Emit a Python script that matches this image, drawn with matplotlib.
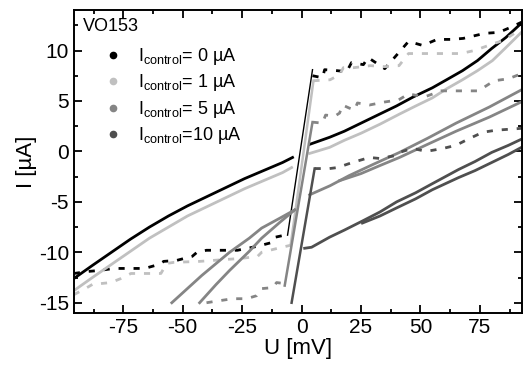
import matplotlib
matplotlib.use("Agg")
import matplotlib.pyplot as plt
from matplotlib.ticker import MultipleLocator

plt.rcParams['font.family'] = ['Liberation Sans', 'DejaVu Sans']
plt.rcParams['mathtext.default'] = 'regular'
plt.rcParams['axes.unicode_minus'] = False

# ---- data: U [mV], I [uA] ----
# I_control = 0 uA (black)
b_low_u = [-95.8, -88, -80, -72, -64, -56, -48, -40, -32, -24, -16, -8, -3.8]
b_low_i = [-12.6, -11.3, -10.0, -8.7, -7.5, -6.4, -5.4, -4.5, -3.6, -2.7, -1.9, -1.1, -0.6]
b_up_u = [3.4, 11.8, 18, 25, 32, 39.9, 47, 55, 61, 67.7, 74, 80, 86, 92.9]
b_up_i = [0.7, 1.4, 2.0, 2.8, 3.6, 4.5, 5.4, 6.3, 7.1, 8.0, 9.0, 10.2, 11.3, 12.8]
b_jump_u = [-5.9, 4.6]
b_jump_i = [-8.3, 8.1]
b_hi_u = [4.6, 8.8, 9.7, 15, 19, 21, 26, 28, 35, 45, 51, 57, 63, 68, 77, 83, 88, 92.5]
b_hi_i = [7.5, 7.3, 8.1, 8.0, 7.9, 8.8, 8.6, 9.3, 8.2, 10.9, 10.5, 11.1, 11.1, 11.2, 11.7, 11.8, 12.3, 12.8]
b_lo_u = [-95.8, -90, -85, -79, -73.5, -66, -60, -58, -52.5, -46, -44, -40, -27, -18.5, -12, -11, -7.1]
b_lo_i = [-12.1, -11.9, -11.8, -11.6, -11.6, -11.6, -11.2, -10.9, -10.8, -10.4, -10.0, -9.8, -9.8, -9.4, -9.0, -8.5, -8.3]

# I_control = 1 uA (light grey)
g1_low_u = [-95.8, -88, -80, -72, -64, -56, -48, -40, -32, -24, -16, -8, -4.2]
g1_low_i = [-13.8, -12.5, -11.2, -9.9, -8.6, -7.5, -6.4, -5.5, -4.6, -3.7, -2.9, -2.1, -1.6]
g1_up_u = [3.4, 11.8, 18, 25, 33, 41.2, 48, 55, 61, 67.7, 74, 80.3, 86, 92.9]
g1_up_i = [-0.2, 0.4, 1.1, 1.8, 2.7, 3.7, 4.5, 5.3, 6.2, 7.1, 8.0, 9.0, 10.3, 11.9]
g1_jump_u = [-4.6, 5.0]
g1_jump_i = [-9.3, 7.0]
g1_hi_u = [5.0, 12, 16, 17.6, 22, 29, 35, 41, 45, 49.6, 56, 62, 67, 72.7, 81, 85, 89.5]
g1_hi_i = [7.0, 7.1, 7.6, 8.3, 8.3, 8.5, 8.4, 8.5, 9.7, 9.7, 9.7, 9.7, 9.7, 10.0, 10.7, 11.0, 11.7]
g1_lo_u = [-95.8, -91, -87.4, -84.5, -80.3, -76, -71.8, -67.6, -59.2, -56.7, -53.8, -42.9, -25.2, -18.5, -16.8, -10, -4.6]
g1_lo_i = [-14.2, -13.6, -13.1, -13.1, -13.0, -12.6, -12.1, -12.1, -12.1, -11.1, -11.0, -10.9, -10.6, -10.4, -10.0, -9.6, -9.3]

# I_control = 5 uA (mid grey)
g5_low_a_u = [-54.6, -42, -30.3, -22, -16.8, -9, -2.9]
g5_low_a_i = [-15.0, -12.3, -10.0, -8.6, -7.6, -6.6, -5.8]
g5_low_b_u = [-42.9, -36, -30.3, -22, -16.8, -9, -2.9]
g5_low_b_i = [-15.0, -13.2, -11.8, -9.9, -8.6, -7.0, -5.8]
g5_jump_u = [-7.1, 4.6]
g5_jump_i = [-13.3, 2.9]
g5_up_a_u = [3.4, 12, 20, 30, 41.2, 53, 65, 79, 93.3]
g5_up_a_i = [-4.3, -3.4, -2.4, -1.3, -0.1, 1.3, 2.8, 4.4, 6.2]
g5_up_b_u = [16, 25, 33, 41.2, 53, 65, 79, 93.3]
g5_up_b_i = [-2.9, -2.2, -1.4, -0.6, 0.7, 2.0, 3.4, 5.0]
g5_hi_u = [4.6, 8.8, 10.1, 14, 16, 17.2, 20, 22.3, 23.5, 28.6, 35, 40.8, 45, 51.7, 58.8, 67.2, 74.4, 81, 87, 92.5]
g5_hi_i = [2.9, 2.8, 3.6, 3.5, 3.8, 4.6, 4.3, 4.1, 4.8, 4.6, 4.9, 5.1, 5.7, 5.4, 6.0, 6.0, 6.0, 7.0, 7.2, 7.7]
g5_lo_u = [-40, -37.4, -29, -23.1, -18.9, -16.8, -12.2, -10.5, -7.1]
g5_lo_i = [-15.0, -14.9, -14.6, -14.6, -14.3, -13.6, -13.5, -13.0, -13.1]

# I_control = 10 uA (dark grey)
g10_jump_u = [-4.2, 5.5]
g10_jump_i = [-15.0, -1.7]
g10_low_u = [1.3, 4.2, 11.8, 18, 25.6, 33, 40, 48, 55, 66, 73, 80, 87, 93.3]
g10_low_i = [-9.6, -9.5, -8.5, -7.8, -6.9, -6.0, -5.0, -4.1, -3.2, -1.8, -1.0, -0.1, 0.6, 1.3]
g10_low2_u = [25.6, 33, 40, 48, 55, 66, 73, 80, 87, 93.3]
g10_low2_i = [-7.1, -6.4, -5.6, -4.7, -3.8, -2.6, -1.9, -1.1, -0.3, 0.5]
g10_hi_u = [5.5, 11.8, 15.1, 21.4, 28.6, 32.8, 39.9, 41.2, 46.6, 52.5, 59.6, 64.9, 70.8, 76.3, 81.8, 93.3]
g10_hi_i = [-1.7, -1.7, -1.6, -1.1, -0.6, -0.7, -0.4, -0.1, 0.3, 0.0, 0.3, 0.6, 1.3, 1.9, 2.1, 2.3]

labels = [r'I$_{control}$= 0 µA', r'I$_{control}$= 1 µA',
          r'I$_{control}$= 5 µA', r'I$_{control}$=10 µA']
colors = ['#000000', '#c0c0c0', '#858585', '#4f4f4f']

fig = plt.figure(figsize=(5.24, 3.76), dpi=100)
ax = fig.add_axes([0.141, 0.168, 0.855, 0.805])

dash = (0, (2.2, 3.2))

c = colors[0]
ax.plot(b_low_u, b_low_i, color=c, lw=2)
ax.plot(b_up_u, b_up_i, color=c, lw=2)
ax.plot(b_jump_u, b_jump_i, color=c, lw=1.0)
ax.plot(b_hi_u, b_hi_i, color=c, lw=2, ls=dash)
ax.plot(b_lo_u, b_lo_i, color=c, lw=2, ls=dash)

c = colors[1]
ax.plot(g1_low_u, g1_low_i, color=c, lw=2)
ax.plot(g1_up_u, g1_up_i, color=c, lw=2)
ax.plot(g1_jump_u, g1_jump_i, color=c, lw=1.8)
ax.plot(g1_hi_u, g1_hi_i, color=c, lw=2, ls=dash)
ax.plot(g1_lo_u, g1_lo_i, color=c, lw=2, ls=dash)

c = colors[2]
ax.plot(g5_low_a_u, g5_low_a_i, color=c, lw=2)
ax.plot(g5_low_b_u, g5_low_b_i, color=c, lw=2)
ax.plot(g5_jump_u, g5_jump_i, color=c, lw=1.8)
ax.plot(g5_up_a_u, g5_up_a_i, color=c, lw=2)
ax.plot(g5_up_b_u, g5_up_b_i, color=c, lw=2)
ax.plot(g5_hi_u, g5_hi_i, color=c, lw=2, ls=dash)
ax.plot(g5_lo_u, g5_lo_i, color=c, lw=2, ls=dash)

c = colors[3]
ax.plot(g10_jump_u, g10_jump_i, color=c, lw=1.8)
ax.plot(g10_low_u, g10_low_i, color=c, lw=2)
ax.plot(g10_low2_u, g10_low2_i, color=c, lw=2)
ax.plot(g10_hi_u, g10_hi_i, color=c, lw=2, ls=dash)

# legend handles: dots only
for c, lab in zip(colors, labels):
    ax.plot([], [], ls='none', marker='o', ms=4.5, color=c, label=lab)

leg = ax.legend(loc='upper left', bbox_to_anchor=(0.03, 0.935), frameon=False,
                fontsize=13, handlelength=1.0, handletextpad=0.9,
                labelspacing=0.3, borderaxespad=0.5)
ax.text(0.02, 0.975, 'VO153', transform=ax.transAxes, fontsize=13,
        va='top', ha='left')

ax.set_xlim(-95.8, 92.7)
ax.set_ylim(-16, 14)
ax.xaxis.set_major_locator(MultipleLocator(25))
ax.xaxis.set_minor_locator(MultipleLocator(12.5))
ax.yaxis.set_major_locator(MultipleLocator(5))
ax.yaxis.set_minor_locator(MultipleLocator(2.5))
ax.tick_params(which='both', direction='in', top=True, right=True, width=1.3)
ax.tick_params(which='major', length=6, labelsize=15)
ax.tick_params(which='minor', length=3)
for s in ax.spines.values():
    s.set_linewidth(1.4)

ax.set_xlabel('U [mV]', fontsize=16, labelpad=1)
ax.set_ylabel('I [µA]', fontsize=16, labelpad=1)

fig.savefig('out.png', dpi=100)
